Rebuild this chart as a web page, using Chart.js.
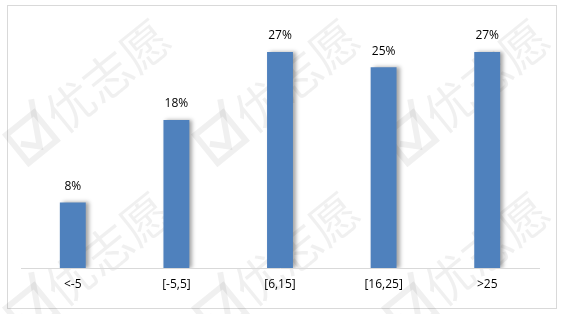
<!DOCTYPE html>
<html>
<head>
<meta charset="utf-8">
<script src="https://cdn.jsdelivr.net/npm/chart.js@4/dist/chart.umd.min.js"></script>
<style>
html,body{margin:0;padding:0;background:#fff;}
#wrap{position:relative;width:563px;height:314px;}
</style>
</head>
<body>
<div id="wrap"><canvas id="c" width="563" height="314"></canvas></div>
<script>
const categories = ['<-5', '[-5,5]', '[6,15]', '[16,25]', '>25'];
const values = [8.2, 18.5, 27.0, 25.1, 27.0];
const valueLabels = ['8%', '18%', '27%', '25%', '27%'];
const watermarkText = '优志愿';

const FONT = '"Open Sans", "Noto Sans CJK SC", sans-serif';

const backgroundPlugin = {
  id: 'bg',
  beforeDraw(chart) {
    const ctx = chart.ctx;
    ctx.save();
    ctx.fillStyle = '#fff';
    ctx.fillRect(0, 0, chart.width, chart.height);
    // outer frame
    ctx.strokeStyle = '#d9d9d9';
    ctx.lineWidth = 1;
    ctx.strokeRect(7.5, 5.5, 549, 303);
    // watermarks
    const centers = [[97,82],[286,82],[476,82],[97,255],[286,255],[476,255]];
    ctx.fillStyle = 'rgba(0,0,0,0.06)';
    ctx.strokeStyle = 'rgba(0,0,0,0.06)';
    centers.forEach(([cx, cy]) => {
      ctx.save();
      ctx.translate(cx, cy);
      ctx.rotate(-39 * Math.PI / 180);
      // check box icon
      ctx.lineWidth = 6;
      ctx.strokeRect(-104, -16, 36, 36);
      ctx.beginPath();
      ctx.moveTo(-98, 0);
      ctx.lineTo(-85, 14);
      ctx.lineTo(-62, -28);
      ctx.stroke();
      ctx.font = '48px "Noto Sans CJK SC", sans-serif';
      ctx.textBaseline = 'middle';
      ctx.textAlign = 'left';
      ctx.fillText(watermarkText, -60, 2);
      ctx.restore();
    });
    ctx.restore();
  }
};

const shadowPlugin = {
  id: 'barShadow',
  beforeDatasetsDraw(chart) {
    const ctx = chart.ctx;
    ctx.save();
    ctx.shadowColor = 'rgba(0,0,0,0.35)';
    ctx.shadowBlur = 4;
    ctx.shadowOffsetX = 3;
    ctx.shadowOffsetY = 0;
  },
  afterDatasetsDraw(chart) {
    chart.ctx.restore();
  }
};

const labelPlugin = {
  id: 'valueLabels',
  afterDatasetsDraw(chart) {
    const ctx = chart.ctx;
    const meta = chart.getDatasetMeta(0);
    ctx.save();
    ctx.fillStyle = '#000';
    ctx.font = '12px ' + FONT;
    ctx.textAlign = 'center';
    ctx.textBaseline = 'middle';
    meta.data.forEach((bar, i) => {
      ctx.fillText(valueLabels[i], bar.x, bar.y - 16);
    });
    ctx.restore();
  }
};

new Chart(document.getElementById('c'), {
  type: 'bar',
  data: {
    labels: categories,
    datasets: [{
      data: values,
      backgroundColor: '#4F81BD',
      borderWidth: 0,
      barPercentage: 0.5,
      categoryPercentage: 0.5
    }]
  },
  options: {
    responsive: false,
    animation: false,
    events: [],
    layout: { padding: { left: 21, right: 24, top: 28, bottom: 0 } },
    plugins: { legend: { display: false }, tooltip: { enabled: false } },
    scales: {
      x: {
        grid: { display: false, drawTicks: false },
        border: { display: true, color: '#d9d9d9', width: 1 },
        ticks: { color: '#000', font: { size: 12, family: FONT }, padding: 9, maxRotation: 0 },
        afterFit(s) { s.height = 46; }
      },
      y: {
        display: false,
        min: 0,
        max: 30
      }
    }
  },
  plugins: [backgroundPlugin, shadowPlugin, labelPlugin]
});
</script>
</body>
</html>
